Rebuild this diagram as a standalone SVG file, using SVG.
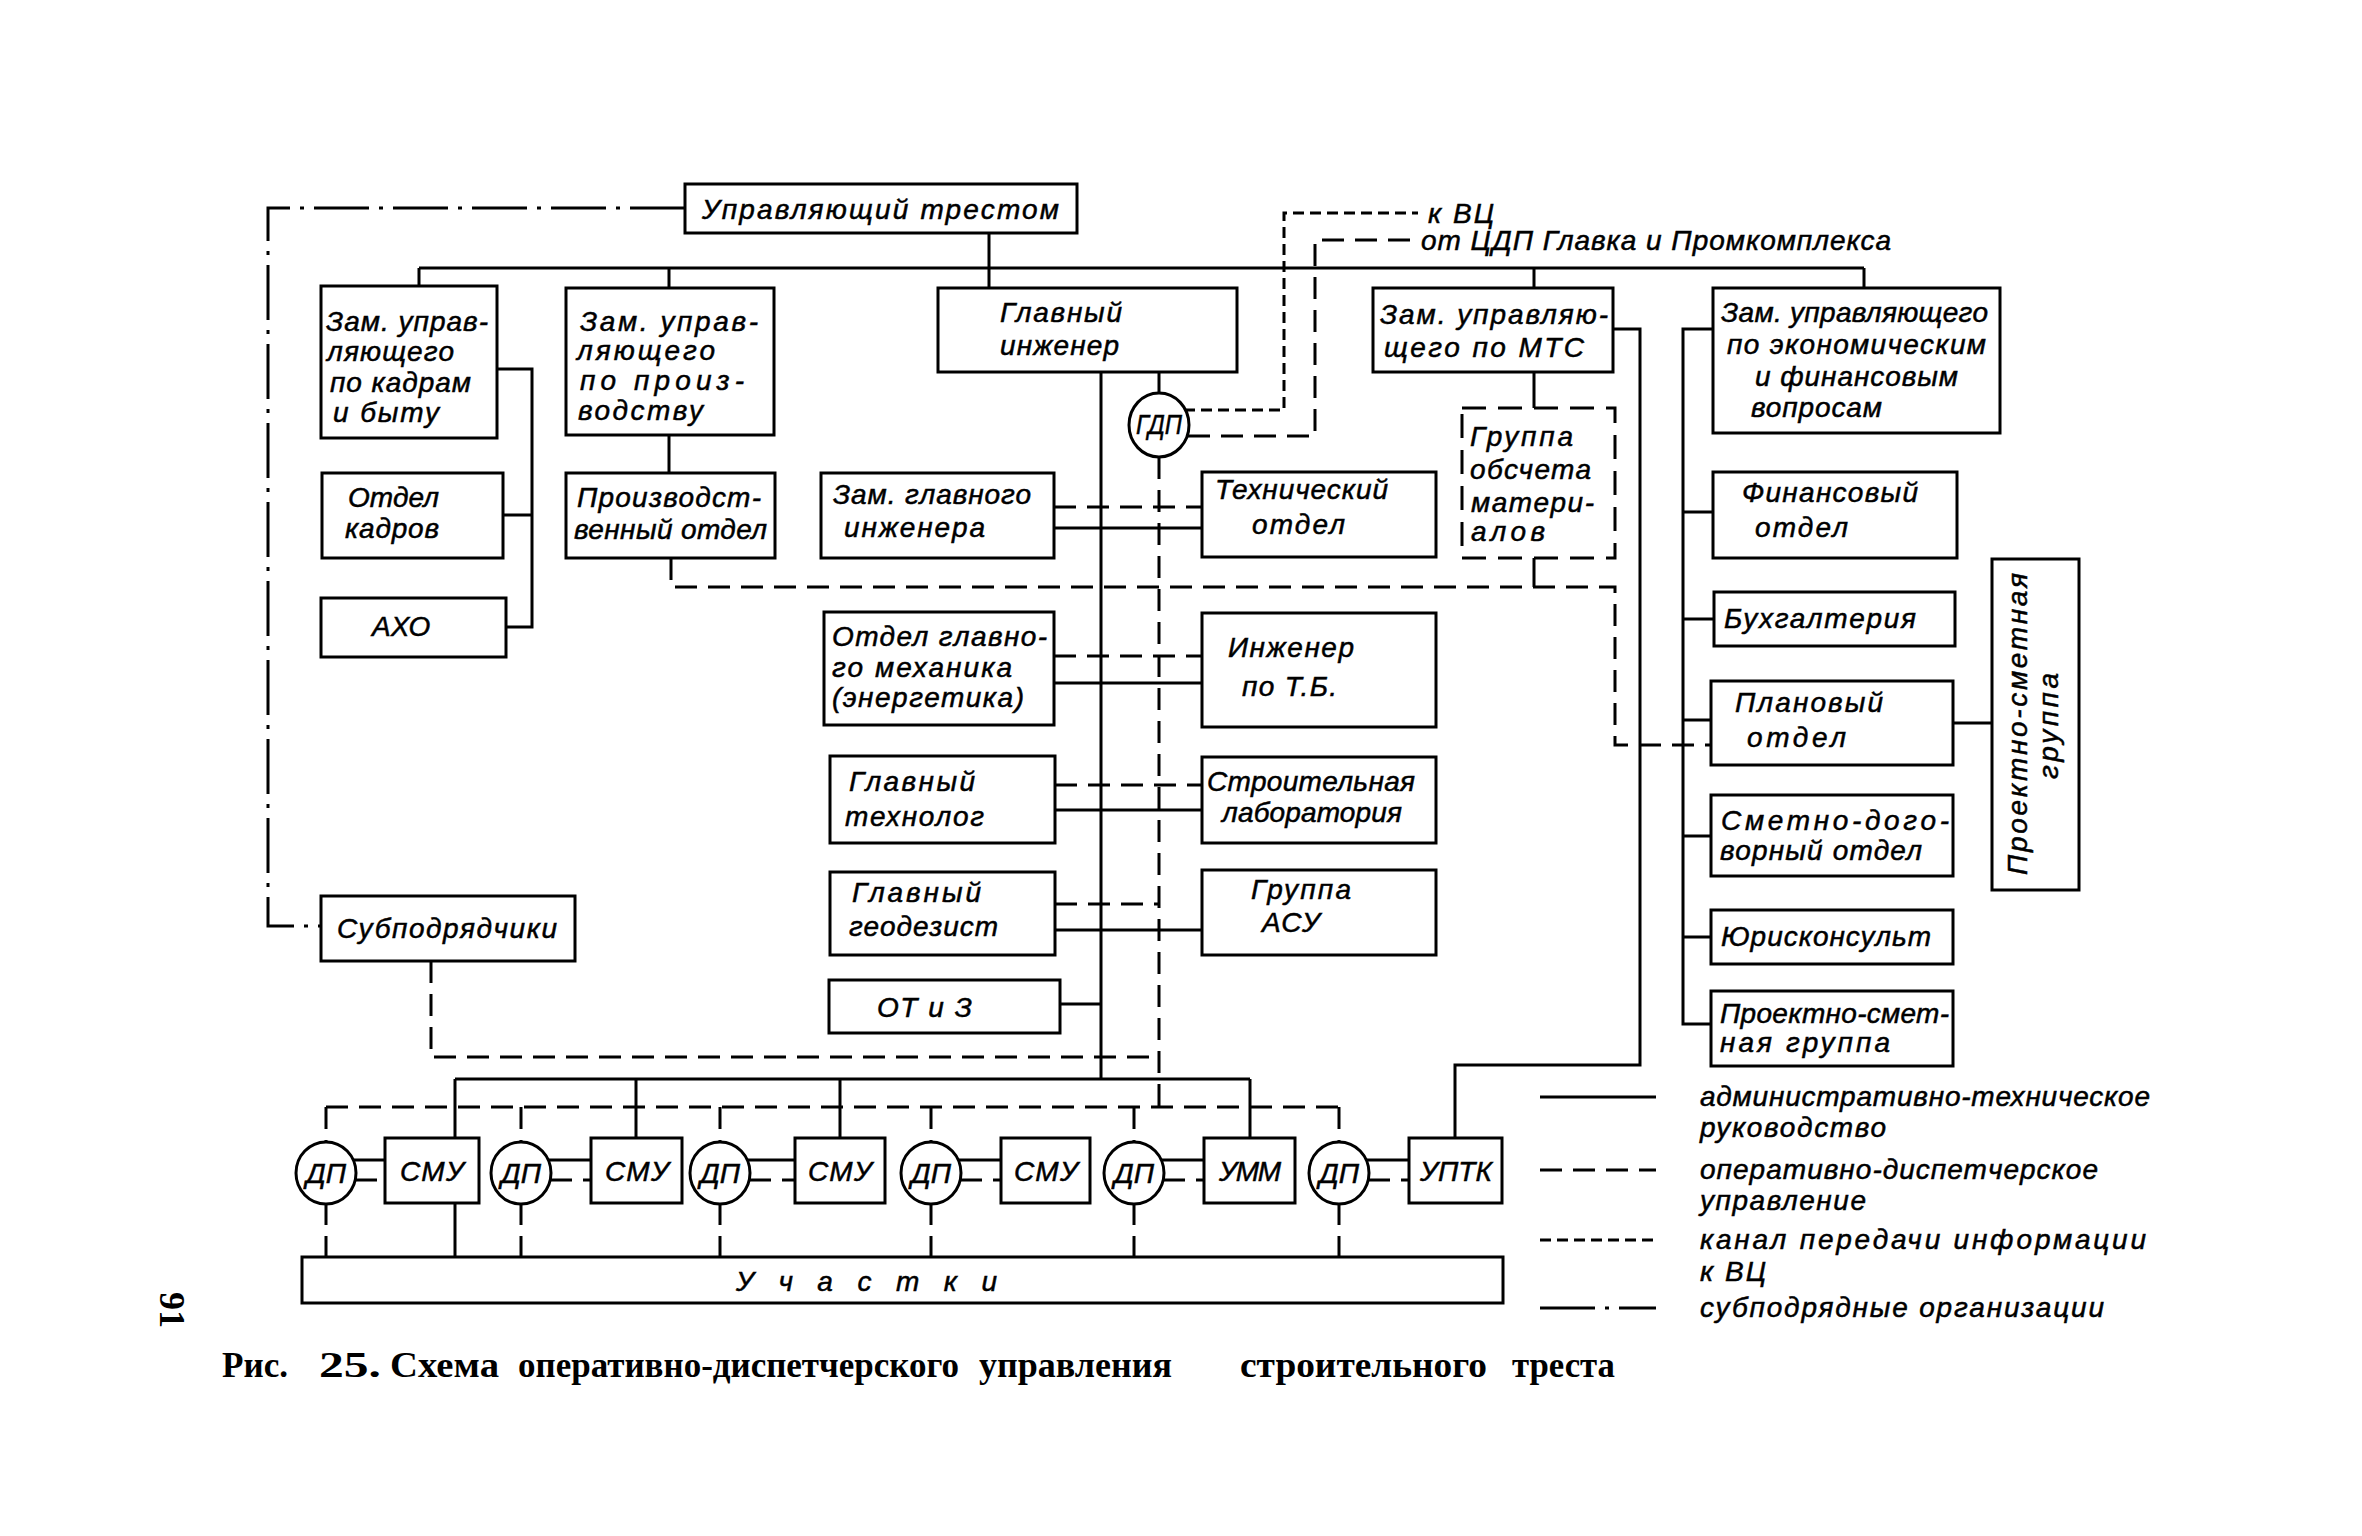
<svg xmlns="http://www.w3.org/2000/svg" width="2362" height="1536" viewBox="0 0 2362 1536">
<style>
.b{fill:#fff;stroke:#000;stroke-width:3}
.bd{fill:#fff;stroke:#000;stroke-width:3;stroke-dasharray:24 12}
.s{fill:none;stroke:#000;stroke-width:3}
.d{fill:none;stroke:#000;stroke-width:3;stroke-dasharray:22 11}
.k{fill:none;stroke:#000;stroke-width:3;stroke-dasharray:11 6}
.dd{fill:none;stroke:#000;stroke-width:3;stroke-dasharray:55 10 4 10}
.t{font-family:"Liberation Sans","DejaVu Sans",sans-serif;font-style:italic;font-size:28px;fill:#000;stroke:#000;stroke-width:0.5}
.m{text-anchor:middle}
.c{font-family:"Liberation Serif","DejaVu Serif",serif;font-weight:bold;font-size:36px;fill:#000}
</style>
<rect width="2362" height="1536" fill="#fff"/>
<g id="connectors">
<path class="dd" d="M685,208 H268 V926 H321"/>
<path class="s" d="M419,268 H1864 M989,233 V288 M419,268 V286 M669,268 V288 M1534,268 V288 M1864,268 V288"/>
<path class="s" d="M497,369 H532 V627 H506 M503,515 H532"/>
<path class="s" d="M669,435 V473"/>
<path class="s" d="M1101,372 V1079 M1159,372 V394"/>
<path class="s" d="M1054,528 H1202 M1054,683 H1202 M1055,810 H1202 M1055,930 H1202 M1060,1004 H1101"/>
<path class="d" d="M1054,507 H1202 M1054,656 H1202 M1055,785 H1202 M1055,904 H1159"/>
<path class="s" d="M1534,372 V408 M1534,558 V587"/>
<path class="s" d="M1613,329 H1640 V1065 H1455 V1138"/>
<path class="s" d="M1713,329 H1683 V1024 H1711 M1683,512 H1713 M1683,619 H1714 M1683,720 H1711 M1683,836 H1711 M1683,937 H1711 M1953,723 H1992"/>
<path class="d" d="M671,558 V587 H1615 V745 H1711"/>
<path class="d" d="M1159,457 V1107"/>
<path class="k" d="M1184,410 H1284 V213 H1418"/>
<path class="d" d="M1188,436 H1315 V240 H1414"/>
<path class="d" d="M431,961 V1057 H1159"/>
<path class="s" d="M455,1079 H1250 M455,1079 V1138 M636,1079 V1138 M840,1079 V1138 M1250,1079 V1138 M455,1203 V1257"/>
<path class="d" d="M326,1107 H1339 M326,1107 V1143 M521,1107 V1143 M720,1107 V1143 M931,1107 V1143 M1134,1107 V1143 M1339,1107 V1143"/>
<path class="d" d="M326,1203 V1257 M521,1203 V1257 M720,1203 V1257 M931,1203 V1257 M1134,1203 V1257 M1339,1203 V1257"/>
<path class="s" d="M353,1160 H385 M548,1160 H591 M747,1160 H795 M958,1160 H1001 M1161,1160 H1204 M1366,1160 H1409"/>
<path class="d" d="M355,1180 H385 M550,1180 H591 M749,1180 H795 M960,1180 H1001 M1163,1180 H1204 M1368,1180 H1409"/>
</g>
<g id="n-trest"><rect class="b" x="685" y="184" width="392" height="49"/><text class="t" x="702" y="219" textLength="357" lengthAdjust="spacing">Управляющий трестом</text></g>
<g id="n-zam-kadry"><rect class="b" x="321" y="286" width="176" height="152"/>
<text class="t" x="326" y="331" textLength="162" lengthAdjust="spacing">Зам. управ-</text>
<text class="t" x="327" y="361" textLength="127" lengthAdjust="spacing">ляющего</text>
<text class="t" x="330" y="392" textLength="141" lengthAdjust="spacing">по кадрам</text>
<text class="t" x="333" y="422" textLength="106" lengthAdjust="spacing">и быту</text></g>
<g id="n-zam-proizv"><rect class="b" x="566" y="288" width="208" height="147"/>
<text class="t" x="580" y="331" textLength="178" lengthAdjust="spacing">Зам. управ-</text>
<text class="t" x="577" y="360" textLength="138" lengthAdjust="spacing">ляющего</text>
<text class="t" x="580" y="390" textLength="164" lengthAdjust="spacing">по произ-</text>
<text class="t" x="578" y="420" textLength="125" lengthAdjust="spacing">водству</text></g>
<g id="n-gl-inzh"><rect class="b" x="938" y="288" width="299" height="84"/>
<text class="t" x="1000" y="322" textLength="122" lengthAdjust="spacing">Главный</text>
<text class="t" x="1000" y="355" textLength="119" lengthAdjust="spacing">инженер</text></g>
<g id="n-gdp"><ellipse class="b" cx="1159" cy="425" rx="30" ry="32"/><text class="t m" x="1159" y="434" font-size="25" textLength="46" lengthAdjust="spacingAndGlyphs">ГДП</text></g>
<g id="n-zam-mts"><rect class="b" x="1373" y="288" width="240" height="84"/>
<text class="t" x="1380" y="324" textLength="228" lengthAdjust="spacing">Зам. управляю-</text>
<text class="t" x="1384" y="357" textLength="200" lengthAdjust="spacing">щего по МТС</text></g>
<g id="n-zam-econ"><rect class="b" x="1713" y="288" width="287" height="145"/>
<text class="t" x="1721" y="322" textLength="267" lengthAdjust="spacing">Зам. управляющего</text>
<text class="t" x="1727" y="354" textLength="259" lengthAdjust="spacing">по экономическим</text>
<text class="t" x="1755" y="386" textLength="203" lengthAdjust="spacing">и финансовым</text>
<text class="t" x="1751" y="417" textLength="131" lengthAdjust="spacing">вопросам</text></g>
<g id="n-otdel-kadrov"><rect class="b" x="322" y="473" width="181" height="85"/>
<text class="t" x="348" y="507" textLength="91" lengthAdjust="spacing">Отдел</text>
<text class="t" x="345" y="538" textLength="94" lengthAdjust="spacing">кадров</text></g>
<g id="n-aho"><rect class="b" x="321" y="598" width="185" height="59"/><text class="t" x="372" y="636">АХО</text></g>
<g id="n-proizv-otdel"><rect class="b" x="566" y="473" width="209" height="85"/>
<text class="t" x="577" y="507" textLength="184" lengthAdjust="spacing">Производст-</text>
<text class="t" x="574" y="539" textLength="193" lengthAdjust="spacing">венный отдел</text></g>
<g id="n-zam-gl-inzh"><rect class="b" x="821" y="473" width="233" height="85"/>
<text class="t" x="833" y="504" textLength="198" lengthAdjust="spacing">Зам. главного</text>
<text class="t" x="844" y="537" textLength="141" lengthAdjust="spacing">инженера</text></g>
<g id="n-tehn-otdel"><rect class="b" x="1202" y="472" width="234" height="85"/>
<text class="t" x="1215" y="499" textLength="173" lengthAdjust="spacing">Технический</text>
<text class="t" x="1252" y="534" textLength="93" lengthAdjust="spacing">отдел</text></g>
<g id="n-gruppa-obscheta"><rect class="bd" x="1462" y="408" width="153" height="150"/>
<text class="t" x="1470" y="446" textLength="103" lengthAdjust="spacing">Группа</text>
<text class="t" x="1470" y="479" textLength="121" lengthAdjust="spacing">обсчета</text>
<text class="t" x="1471" y="512" textLength="123" lengthAdjust="spacing">матери-</text>
<text class="t" x="1471" y="541" textLength="74" lengthAdjust="spacing">алов</text></g>
<g id="n-fin"><rect class="b" x="1713" y="472" width="244" height="86"/>
<text class="t" x="1742" y="502" textLength="176" lengthAdjust="spacing">Финансовый</text>
<text class="t" x="1755" y="537" textLength="93" lengthAdjust="spacing">отдел</text></g>
<g id="n-buh"><rect class="b" x="1714" y="592" width="241" height="54"/><text class="t" x="1724" y="628" textLength="192" lengthAdjust="spacing">Бухгалтерия</text></g>
<g id="n-plan"><rect class="b" x="1711" y="681" width="242" height="84"/>
<text class="t" x="1735" y="712" textLength="148" lengthAdjust="spacing">Плановый</text>
<text class="t" x="1747" y="747" textLength="99" lengthAdjust="spacing">отдел</text></g>
<g id="n-smetno"><rect class="b" x="1711" y="795" width="242" height="81"/>
<text class="t" x="1721" y="830" textLength="228" lengthAdjust="spacing">Сметно-дого-</text>
<text class="t" x="1720" y="860" textLength="202" lengthAdjust="spacing">ворный отдел</text></g>
<g id="n-jurist"><rect class="b" x="1711" y="910" width="242" height="54"/><text class="t" x="1721" y="946" textLength="210" lengthAdjust="spacing">Юрисконсульт</text></g>
<g id="n-proekt-smet"><rect class="b" x="1711" y="991" width="242" height="75"/>
<text class="t" x="1720" y="1023" textLength="229" lengthAdjust="spacing">Проектно-смет-</text>
<text class="t" x="1720" y="1052" textLength="170" lengthAdjust="spacing">ная группа</text></g>
<g id="n-proekt-smet-gruppa"><rect class="b" x="1992" y="559" width="87" height="331"/>
<text class="t m" transform="translate(2027,724) rotate(-90)" textLength="302" lengthAdjust="spacing">Проектно-сметная</text>
<text class="t m" transform="translate(2058,726) rotate(-90)" textLength="106" lengthAdjust="spacing">группа</text></g>
<g id="n-gl-meh"><rect class="b" x="824" y="612" width="230" height="113"/>
<text class="t" x="832" y="646" textLength="215" lengthAdjust="spacing">Отдел главно-</text>
<text class="t" x="832" y="677" textLength="180" lengthAdjust="spacing">го механика</text>
<text class="t" x="832" y="707" textLength="192" lengthAdjust="spacing">(энергетика)</text></g>
<g id="n-inzh-tb"><rect class="b" x="1202" y="613" width="234" height="114"/>
<text class="t" x="1228" y="657" textLength="126" lengthAdjust="spacing">Инженер</text>
<text class="t" x="1242" y="696" textLength="95" lengthAdjust="spacing">по Т.Б.</text></g>
<g id="n-gl-tehnolog"><rect class="b" x="830" y="756" width="225" height="87"/>
<text class="t" x="849" y="791" textLength="126" lengthAdjust="spacing">Главный</text>
<text class="t" x="845" y="826" textLength="139" lengthAdjust="spacing">технолог</text></g>
<g id="n-stroit-lab"><rect class="b" x="1202" y="757" width="234" height="86"/>
<text class="t" x="1207" y="791" textLength="208" lengthAdjust="spacing">Строительная</text>
<text class="t" x="1222" y="822" textLength="180" lengthAdjust="spacing">лаборатория</text></g>
<g id="n-gl-geodezist"><rect class="b" x="830" y="872" width="225" height="83"/>
<text class="t" x="852" y="902" textLength="129" lengthAdjust="spacing">Главный</text>
<text class="t" x="849" y="936" textLength="149" lengthAdjust="spacing">геодезист</text></g>
<g id="n-asu"><rect class="b" x="1202" y="870" width="234" height="85"/>
<text class="t" x="1251" y="899" textLength="100" lengthAdjust="spacing">Группа</text>
<text class="t" x="1262" y="932" textLength="58" lengthAdjust="spacing">АСУ</text></g>
<g id="n-otiz"><rect class="b" x="829" y="980" width="231" height="53"/><text class="t" x="877" y="1017" textLength="95" lengthAdjust="spacing">ОТ и З</text></g>
<g id="n-subpodr"><rect class="b" x="321" y="896" width="254" height="65"/><text class="t" x="337" y="938" textLength="220" lengthAdjust="spacing">Субподрядчики</text></g>
<g id="n-dp1"><ellipse class="b" cx="326" cy="1173" rx="30" ry="31"/><text class="t m" x="326" y="1183" textLength="40" lengthAdjust="spacingAndGlyphs">ДП</text></g>
<g id="n-smu1"><rect class="b" x="385" y="1138" width="94" height="65"/><text class="t m" x="432" y="1181" textLength="64" lengthAdjust="spacing">СМУ</text></g>
<g id="n-dp2"><ellipse class="b" cx="521" cy="1173" rx="30" ry="31"/><text class="t m" x="521" y="1183" textLength="40" lengthAdjust="spacingAndGlyphs">ДП</text></g>
<g id="n-smu2"><rect class="b" x="591" y="1138" width="91" height="65"/><text class="t m" x="637" y="1181" textLength="64" lengthAdjust="spacing">СМУ</text></g>
<g id="n-dp3"><ellipse class="b" cx="720" cy="1173" rx="30" ry="31"/><text class="t m" x="720" y="1183" textLength="40" lengthAdjust="spacingAndGlyphs">ДП</text></g>
<g id="n-smu3"><rect class="b" x="795" y="1138" width="90" height="65"/><text class="t m" x="840" y="1181" textLength="64" lengthAdjust="spacing">СМУ</text></g>
<g id="n-dp4"><ellipse class="b" cx="931" cy="1173" rx="30" ry="31"/><text class="t m" x="931" y="1183" textLength="40" lengthAdjust="spacingAndGlyphs">ДП</text></g>
<g id="n-smu4"><rect class="b" x="1001" y="1138" width="89" height="65"/><text class="t m" x="1046" y="1181" textLength="64" lengthAdjust="spacing">СМУ</text></g>
<g id="n-dp5"><ellipse class="b" cx="1134" cy="1173" rx="30" ry="31"/><text class="t m" x="1134" y="1183" textLength="40" lengthAdjust="spacingAndGlyphs">ДП</text></g>
<g id="n-umm"><rect class="b" x="1204" y="1138" width="91" height="65"/><text class="t m" x="1250" y="1181" textLength="62" lengthAdjust="spacing">УММ</text></g>
<g id="n-dp6"><ellipse class="b" cx="1339" cy="1173" rx="30" ry="31"/><text class="t m" x="1339" y="1183" textLength="40" lengthAdjust="spacingAndGlyphs">ДП</text></g>
<g id="n-uptk"><rect class="b" x="1409" y="1138" width="93" height="65"/><text class="t m" x="1456" y="1181" textLength="72" lengthAdjust="spacing">УПТК</text></g>
<g id="n-uchastki"><rect class="b" x="302" y="1257" width="1201" height="46"/><text class="t" x="736" y="1291" textLength="261" lengthAdjust="spacing">У ч а с т к и</text></g>
<g id="labels">
<text class="t" x="1428" y="223" textLength="66" lengthAdjust="spacing">к ВЦ</text>
<text class="t" x="1421" y="250" textLength="470" lengthAdjust="spacing">от ЦДП Главка и Промкомплекса</text>
</g>
<g id="legend">
<path class="s" d="M1540,1097 H1656"/>
<path class="d" d="M1540,1170 H1656"/>
<path class="k" d="M1540,1240 H1656"/>
<path class="dd" d="M1540,1308 H1656"/>
<text class="t" x="1700" y="1106" textLength="450" lengthAdjust="spacing">административно-техническое</text>
<text class="t" x="1700" y="1137" textLength="186" lengthAdjust="spacing">руководство</text>
<text class="t" x="1700" y="1179" textLength="398" lengthAdjust="spacing">оперативно-диспетчерское</text>
<text class="t" x="1700" y="1210" textLength="166" lengthAdjust="spacing">управление</text>
<text class="t" x="1700" y="1249" textLength="446" lengthAdjust="spacing">канал передачи информации</text>
<text class="t" x="1700" y="1281" textLength="66" lengthAdjust="spacing">к ВЦ</text>
<text class="t" x="1700" y="1317" textLength="404" lengthAdjust="spacing">субподрядные организации</text>
</g>
<g id="caption">
<text class="c" x="222" y="1377" textLength="66" lengthAdjust="spacingAndGlyphs">Рис.</text>
<text class="c" x="319" y="1377" textLength="62" lengthAdjust="spacingAndGlyphs">25.</text>
<text class="c" x="390" y="1377" textLength="109" lengthAdjust="spacingAndGlyphs">Схема</text>
<text class="c" x="518" y="1377" textLength="441" lengthAdjust="spacingAndGlyphs">оперативно-диспетчерского</text>
<text class="c" x="979" y="1377" textLength="193" lengthAdjust="spacingAndGlyphs">управления</text>
<text class="c" x="1240" y="1377" textLength="247" lengthAdjust="spacingAndGlyphs">строительного</text>
<text class="c" x="1512" y="1377" textLength="103" lengthAdjust="spacingAndGlyphs">треста</text>
<text class="c" transform="translate(160,1310) rotate(90)" text-anchor="middle" font-size="42">91</text>
</g>
</svg>
